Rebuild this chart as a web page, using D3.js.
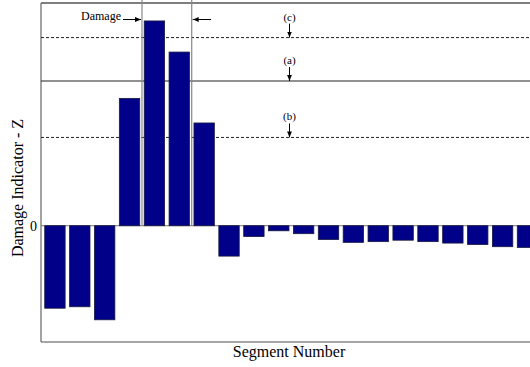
<!DOCTYPE html>
<meta charset="utf-8">
<script src="https://d3js.org/d3.v7.min.js"></script>
<style>
body { margin: 0; background: #fff; }
</style>
<body></body>
<script>

// data
var segments = d3.range(1, 21);
var zValues = [-1.14, -1.12, -1.30, 1.76, 2.83, 2.40, 1.42, -0.42, -0.15, -0.07,
               -0.11, -0.19, -0.23, -0.22, -0.20, -0.22, -0.24, -0.26, -0.29, -0.30];
var thresholdNames = ["(c)", "(a)", "(b)"];
var thresholdValues = [2.60, 2.00, 1.22];
var thresholdDash = ["3,2", null, "3,2"];
var damageFrom = 4, damageTo = 6;   // damage lies between these segments

var width = 530, height = 367;
var margin = {top: 3, left: 41, bottom: 342};

var svg = d3.select("body").append("svg")
    .attr("width", width)
    .attr("height", height)
    .attr("font-family", "'Liberation Serif', 'DejaVu Serif', serif");

var xScale = d3.scaleBand()
    .domain(segments)
    .range([margin.left, 541.4])
    .paddingInner(0.18)
    .paddingOuter(0.15);

var yScale = d3.scaleLinear()
    .domain([-1.607, 3.078])
    .range([margin.bottom, margin.top]);

var y0 = yScale(0);

// frame
svg.append("line")
    .attr("x1", margin.left).attr("x2", width)
    .attr("y1", margin.top).attr("y2", margin.top)
    .attr("stroke", "#555").attr("stroke-width", 1.5);

svg.append("line")
    .attr("x1", margin.left).attr("x2", width)
    .attr("y1", margin.bottom).attr("y2", margin.bottom)
    .attr("stroke", "#888").attr("stroke-width", 1.5);

svg.append("line")
    .attr("x1", margin.left).attr("x2", margin.left)
    .attr("y1", margin.top).attr("y2", margin.bottom)
    .attr("stroke", "#666").attr("stroke-width", 1.2);

// threshold lines
var thr = thresholdValues.map(function(v, i) {
  return {name: thresholdNames[i], value: v, dash: thresholdDash[i]};
});

svg.selectAll(".thr")
    .data(thr)
  .enter().append("line")
    .attr("class", "thr")
    .attr("x1", margin.left).attr("x2", width)
    .attr("y1", function(d) { return yScale(d.value); })
    .attr("y2", function(d) { return yScale(d.value); })
    .attr("stroke", "#222")
    .attr("stroke-width", 1)
    .attr("stroke-dasharray", function(d) { return d.dash; });

// zero line
svg.append("line")
    .attr("x1", margin.left).attr("x2", width)
    .attr("y1", y0).attr("y2", y0)
    .attr("stroke", "#777").attr("stroke-width", 1);

// bars
svg.selectAll(".bar")
    .data(zValues)
  .enter().append("rect")
    .attr("class", "bar")
    .attr("x", function(d, i) { return xScale(segments[i]); })
    .attr("y", function(d) { return d > 0 ? yScale(d) : y0; })
    .attr("width", xScale.bandwidth())
    .attr("height", function(d) { return Math.abs(yScale(d) - y0); })
    .attr("fill", "#000088")
    .attr("stroke", "#1a1a40")
    .attr("stroke-width", 0.8);

// damage region markers
var gap = xScale.step() - xScale.bandwidth();
var xa = xScale(damageFrom) + xScale.bandwidth() + gap / 2;
var xb = xScale(damageTo) + xScale.bandwidth() + gap / 2;

svg.selectAll(".dmg")
    .data([xa, xb])
  .enter().append("line")
    .attr("x1", function(d) { return d; })
    .attr("x2", function(d) { return d; })
    .attr("y1", 0).attr("y2", y0)
    .attr("stroke", "#888").attr("stroke-width", 1.2);

svg.append("defs").append("marker")
    .attr("id", "arr")
    .attr("viewBox", "0 0 10 10")
    .attr("refX", 10).attr("refY", 5)
    .attr("markerWidth", 6).attr("markerHeight", 6)
    .attr("orient", "auto")
  .append("path")
    .attr("d", "M0,1 L10,5 L0,9 Z")
    .attr("fill", "#000");

svg.append("line")
    .attr("x1", 123).attr("x2", xa - 1)
    .attr("y1", 19.5).attr("y2", 19.5)
    .attr("stroke", "#000").attr("stroke-width", 1)
    .attr("marker-end", "url(#arr)");

svg.append("line")
    .attr("x1", 211).attr("x2", xb + 1)
    .attr("y1", 19.5).attr("y2", 19.5)
    .attr("stroke", "#000").attr("stroke-width", 1)
    .attr("marker-end", "url(#arr)");

svg.append("text")
    .attr("x", 121).attr("y", 20)
    .attr("text-anchor", "end")
    .style("font-size", "12px")
    .text("Damage");

// threshold labels with arrows
var labX = 289.5;
svg.selectAll(".thrLab")
    .data(thr)
  .enter().append("text")
    .attr("class", "thrLab")
    .attr("x", labX)
    .attr("y", function(d) { return yScale(d.value) - 17; })
    .attr("text-anchor", "middle")
    .style("font-size", "11px")
    .text(function(d) { return d.name; });

svg.selectAll(".thrArr")
    .data(thr)
  .enter().append("line")
    .attr("class", "thrArr")
    .attr("x1", labX).attr("x2", labX)
    .attr("y1", function(d) { return yScale(d.value) - 14; })
    .attr("y2", function(d) { return yScale(d.value); })
    .attr("stroke", "#000").attr("stroke-width", 1)
    .attr("marker-end", "url(#arr)");

// axis texts
svg.append("text")
    .attr("x", 37).attr("y", y0 + 5)
    .attr("text-anchor", "end")
    .style("font-size", "14px")
    .text("0");

svg.append("text")
    .attr("transform", "translate(23," + 188 + ") rotate(-90)")
    .attr("text-anchor", "middle")
    .style("font-size", "16px")
    .text("Damage Indicator - Z");

svg.append("text")
    .attr("x", 289).attr("y", 357)
    .attr("text-anchor", "middle")
    .style("font-size", "16px")
    .text("Segment Number");

</script>
